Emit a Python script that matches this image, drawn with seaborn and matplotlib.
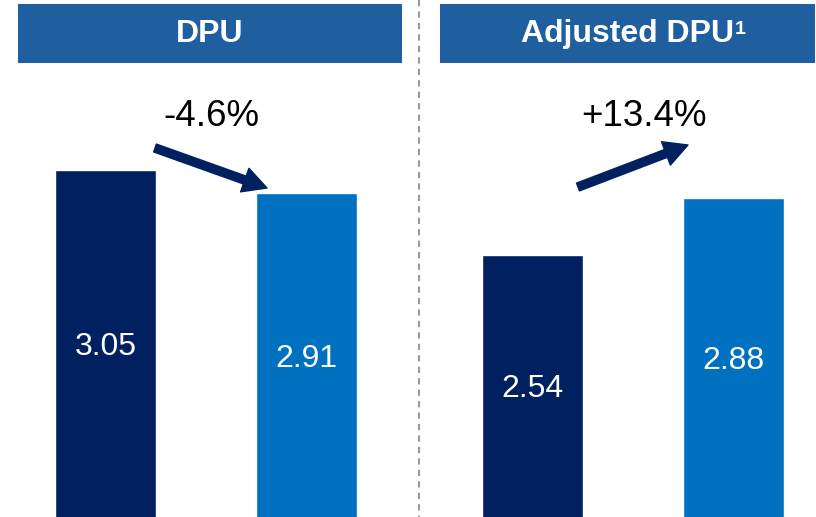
import matplotlib
matplotlib.use("Agg")
import matplotlib.pyplot as plt
import matplotlib.transforms as mtransforms
from matplotlib.patches import Rectangle, FancyArrowPatch
from matplotlib.lines import Line2D
import pandas as pd
import seaborn as sns

# datos
periods = ["Prior", "Current"]
dpu = [3.05, 2.91]
adj_dpu = [2.54, 2.88]
titles = ["DPU", "Adjusted DPU"]
title_notes = ["", "1"]
changes = ["-4.6%", "+13.4%"]

dark = "#002060"
light = "#0070C0"
header = "#1F5F9F"

sns.set_theme(style="white")
plt.rcParams['font.family'] = ['Liberation Sans', 'DejaVu Sans']

W, H = 816, 517
fig = plt.figure(figsize=(W / 100, H / 100), dpi=100)
# coordenadas en pixeles desde arriba a la izquierda
px = mtransforms.Affine2D().scale(1 / W, -1 / H).translate(0, 1) + fig.transFigure

base_y = 675      # linea base (fuera de la imagen)
top_y = 13        # y para valor 4.0
ax_h = (base_y - top_y) / H
ax_b = (H - base_y) / H

axes = [fig.add_axes([5 / W, ax_b, 402 / W, ax_h]),
        fig.add_axes([432 / W, ax_b, 402 / W, ax_h])]

for ax, vals in zip(axes, [dpu, adj_dpu]):
    df = pd.DataFrame({"period": periods, "value": vals})
    sns.barplot(data=df, x="period", y="value", hue="period",
                palette=[dark, light], width=0.5, saturation=1,
                legend=False, ax=ax)
    ax.set_xlim(-0.5, 1.5)
    ax.set_ylim(0, 4)
    ax.set_axis_off()

fig.canvas.draw()
for ax, vals in zip(axes, [dpu, adj_dpu]):
    # valor visible en el borde inferior de la imagen
    vis_bottom = ax.transData.inverted().transform((0, 0))[1]
    for i, v in enumerate(vals):
        ax.text(i, (v + vis_bottom) / 2 - 0.02, f"{v:.2f}", color="white",
                fontsize=23, ha="center", va="center")

# encabezados
for (x0, x1), t, note in zip([(18, 402), (440, 815)], titles, title_notes):
    fig.add_artist(Rectangle((x0, 4), x1 - x0, 59, transform=px,
                             facecolor=header, edgecolor="none"))
    cx = (x0 + x1) / 2
    txt = fig.text(cx / W, 1 - 34 / H, t, color="white", fontsize=23,
                   fontweight="bold", ha="center", va="center")
    if note:
        fig.canvas.draw()
        bb = txt.get_window_extent()
        fig.text((bb.x1 + 1) / W, 1 - 21 / H, note, color="white", fontsize=14,
                 fontweight="bold", ha="left", va="top")

# linea divisoria
fig.add_artist(Line2D([419, 419], [0, H], transform=px, color="#9a9a9a",
                      lw=1.5, linestyle=(0, (3, 2.5))))

# cambios y flechas
for (cx, cy), t in zip([(211, 116), (644, 116)], changes):
    fig.text(cx / W, 1 - cy / H, t, fontsize=26.5, ha="center", va="center",
             color="black")

for a, b in [((155, 148), (267, 188)), ((578, 187), (688, 145))]:
    fig.add_artist(FancyArrowPatch(a, b, transform=px,
                                   arrowstyle="simple,head_length=17,head_width=18,tail_width=6",
                                   mutation_scale=1, shrinkA=0, shrinkB=0,
                                   color=dark))

fig.savefig("out.png", dpi=100)
